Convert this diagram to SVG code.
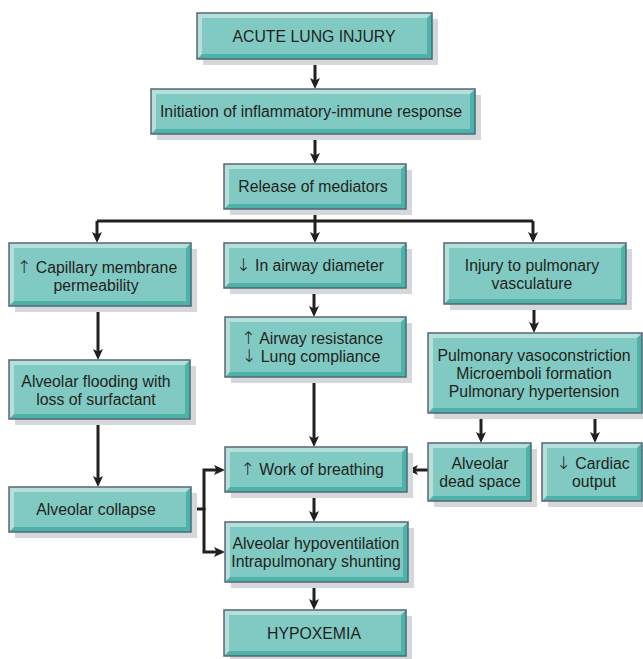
<svg xmlns="http://www.w3.org/2000/svg" width="643" height="659" viewBox="0 0 643 659">
<defs>
<style>
.sh{fill:#d6d7d9}
.dk{fill:#4db3a9}
.lt{fill:#b4e0da}
.fc{fill:#80cac3}
.bd{fill:none;stroke:#56647a;stroke-width:1.5}
text{font-family:"Liberation Sans",Arial,"DejaVu Sans",sans-serif;font-size:15.8px;fill:#231f20;text-anchor:middle}
.sy{font-family:"DejaVu Sans",sans-serif;font-size:17.5px;font-weight:300}
.cn{fill:none;stroke:#231f20;stroke-width:3}
.ar{marker-end:url(#ah)}
</style>
<marker id="ah" viewBox="0 0 11 10" markerWidth="11" markerHeight="10" refX="7" refY="5" orient="auto" markerUnits="userSpaceOnUse">
<path d="M0,0 L11,5 L0,10 L2.5,5 Z" fill="#231f20"/>
</marker>
</defs>
<rect width="643" height="659" fill="#ffffff"/>

<g id="connectors">
<path class="cn ar" d="M315,59 V85"/>
<path class="cn ar" d="M315,134 V160"/>
<path class="cn" d="M315,209 V221 M97,221 H533"/>
<path class="cn ar" d="M97,221 V239"/>
<path class="cn ar" d="M315,221 V239"/>
<path class="cn ar" d="M533,221 V239"/>
<path class="cn ar" d="M314,288 V313"/>
<path class="cn ar" d="M314,377 V443"/>
<path class="cn ar" d="M98,306 V356"/>
<path class="cn ar" d="M98,419 V483"/>
<path class="cn ar" d="M534,304 V329"/>
<path class="cn ar" d="M481,413 V439"/>
<path class="cn ar" d="M595,413 V439"/>
<path class="cn ar" d="M428,470 H411"/>
<path class="cn ar" d="M191,509 H204 V470 H221"/>
<path class="cn ar" d="M204,508 V552 H221"/>
<path class="cn ar" d="M314,492 V518"/>
<path class="cn ar" d="M314,582 V606"/>
</g>

<g id="n1" transform="translate(197,13)">
<rect class="sh" x="6" y="6" width="235" height="46"/>
<rect class="dk" width="235" height="46"/>
<polygon class="lt" points="0,0 235,0 230,5 5,5 5,41 0,46"/>
<rect class="fc" x="5" y="5" width="225" height="36"/>
<rect class="bd" width="235" height="46"/>
<text x="117" y="28.7">ACUTE LUNG INJURY</text>
</g>

<g id="n2" transform="translate(151,89)">
<rect class="sh" x="6" y="6" width="324" height="45"/>
<rect class="dk" width="324" height="45"/>
<polygon class="lt" points="0,0 324,0 319,5 5,5 5,40 0,45"/>
<rect class="fc" x="5" y="5" width="314" height="35"/>
<rect class="bd" width="324" height="45"/>
<text x="160" y="28.2">Initiation of inflammatory-immune response</text>
</g>

<g id="n3" transform="translate(224,164)">
<rect class="sh" x="6" y="6" width="182" height="45"/>
<rect class="dk" width="182" height="45"/>
<polygon class="lt" points="0,0 182,0 177,5 5,5 5,40 0,45"/>
<rect class="fc" x="5" y="5" width="172" height="35"/>
<rect class="bd" width="182" height="45"/>
<text x="89" y="28.2">Release of mediators</text>
</g>

<g id="n4" transform="translate(9,243)">
<rect class="sh" x="6" y="6" width="182" height="63"/>
<rect class="dk" width="182" height="63"/>
<polygon class="lt" points="0,0 182,0 177,5 5,5 5,58 0,63"/>
<rect class="fc" x="5" y="5" width="172" height="53"/>
<rect class="bd" width="182" height="63"/>
<text x="88" y="29.5"><tspan class="sy">↑</tspan> Capillary membrane</text>
<text x="87" y="47.5">permeability</text>
</g>

<g id="n5" transform="translate(224,243)">
<rect class="sh" x="6" y="6" width="182" height="45"/>
<rect class="dk" width="182" height="45"/>
<polygon class="lt" points="0,0 182,0 177,5 5,5 5,40 0,45"/>
<rect class="fc" x="5" y="5" width="172" height="35"/>
<rect class="bd" width="182" height="45"/>
<text x="86" y="28.2"><tspan class="sy">↓</tspan> In airway diameter</text>
</g>

<g id="n6" transform="translate(444,243)">
<rect class="sh" x="6" y="6" width="182" height="61"/>
<rect class="dk" width="182" height="61"/>
<polygon class="lt" points="0,0 182,0 177,5 5,5 5,56 0,61"/>
<rect class="fc" x="5" y="5" width="172" height="51"/>
<rect class="bd" width="182" height="61"/>
<text x="88" y="27.5">Injury to pulmonary</text>
<text x="88" y="45.5">vasculature</text>
</g>

<g id="n7" transform="translate(225,317)">
<rect class="sh" x="6" y="6" width="181" height="60"/>
<rect class="dk" width="181" height="60"/>
<polygon class="lt" points="0,0 181,0 176,5 5,5 5,55 0,60"/>
<rect class="fc" x="5" y="5" width="171" height="50"/>
<rect class="bd" width="181" height="60"/>
<text x="87" y="27"><tspan class="sy">↑</tspan> Airway resistance</text>
<text x="86" y="45"><tspan class="sy">↓</tspan> Lung compliance</text>
</g>

<g id="n8" transform="translate(9,360)">
<rect class="sh" x="6" y="6" width="181" height="59"/>
<rect class="dk" width="181" height="59"/>
<polygon class="lt" points="0,0 181,0 176,5 5,5 5,54 0,59"/>
<rect class="fc" x="5" y="5" width="171" height="49"/>
<rect class="bd" width="181" height="59"/>
<text x="87" y="27">Alveolar flooding with</text>
<text x="87" y="45">loss of surfactant</text>
</g>

<g id="n9" transform="translate(428,333)">
<rect class="sh" x="6" y="6" width="214" height="80"/>
<rect class="dk" width="214" height="80"/>
<polygon class="lt" points="0,0 214,0 209,5 5,5 5,75 0,80"/>
<rect class="fc" x="5" y="5" width="204" height="70"/>
<rect class="bd" width="214" height="80"/>
<text x="106" y="28">Pulmonary vasoconstriction</text>
<text x="106" y="46">Microemboli formation</text>
<text x="106" y="64">Pulmonary hypertension</text>
</g>

<g id="n10" transform="translate(225,447)">
<rect class="sh" x="6" y="6" width="182" height="45"/>
<rect class="dk" width="182" height="45"/>
<polygon class="lt" points="0,0 182,0 177,5 5,5 5,40 0,45"/>
<rect class="fc" x="5" y="5" width="172" height="35"/>
<rect class="bd" width="182" height="45"/>
<text x="87" y="28.2"><tspan class="sy">↑</tspan> Work of breathing</text>
</g>

<g id="n11" transform="translate(225,522)">
<rect class="sh" x="6" y="6" width="183" height="60"/>
<rect class="dk" width="183" height="60"/>
<polygon class="lt" points="0,0 183,0 178,5 5,5 5,55 0,60"/>
<rect class="fc" x="5" y="5" width="173" height="50"/>
<rect class="bd" width="183" height="60"/>
<text x="91" y="27">Alveolar hypoventilation</text>
<text x="91" y="45">Intrapulmonary shunting</text>
</g>

<g id="n12" transform="translate(9,487)">
<rect class="sh" x="6" y="6" width="182" height="45"/>
<rect class="dk" width="182" height="45"/>
<polygon class="lt" points="0,0 182,0 177,5 5,5 5,40 0,45"/>
<rect class="fc" x="5" y="5" width="172" height="35"/>
<rect class="bd" width="182" height="45"/>
<text x="87" y="28.2">Alveolar collapse</text>
</g>

<g id="n13" transform="translate(428,443)">
<rect class="sh" x="6" y="6" width="103" height="58"/>
<rect class="dk" width="103" height="58"/>
<polygon class="lt" points="0,0 103,0 98,5 5,5 5,53 0,58"/>
<rect class="fc" x="5" y="5" width="93" height="48"/>
<rect class="bd" width="103" height="58"/>
<text x="52" y="26">Alveolar</text>
<text x="52" y="44">dead space</text>
</g>

<g id="n14" transform="translate(542,443)">
<rect class="sh" x="6" y="6" width="100" height="58"/>
<rect class="dk" width="100" height="58"/>
<polygon class="lt" points="0,0 100,0 95,5 5,5 5,53 0,58"/>
<rect class="fc" x="5" y="5" width="90" height="48"/>
<rect class="bd" width="100" height="58"/>
<text x="51" y="26"><tspan class="sy">↓</tspan> Cardiac</text>
<text x="52" y="44">output</text>
</g>

<g id="n15" transform="translate(224,610)">
<rect class="sh" x="6" y="6" width="182" height="46"/>
<rect class="dk" width="182" height="46"/>
<polygon class="lt" points="0,0 182,0 177,5 5,5 5,41 0,46"/>
<rect class="fc" x="5" y="5" width="172" height="36"/>
<rect class="bd" width="182" height="46"/>
<text x="90" y="28.7">HYPOXEMIA</text>
</g>
</svg>
